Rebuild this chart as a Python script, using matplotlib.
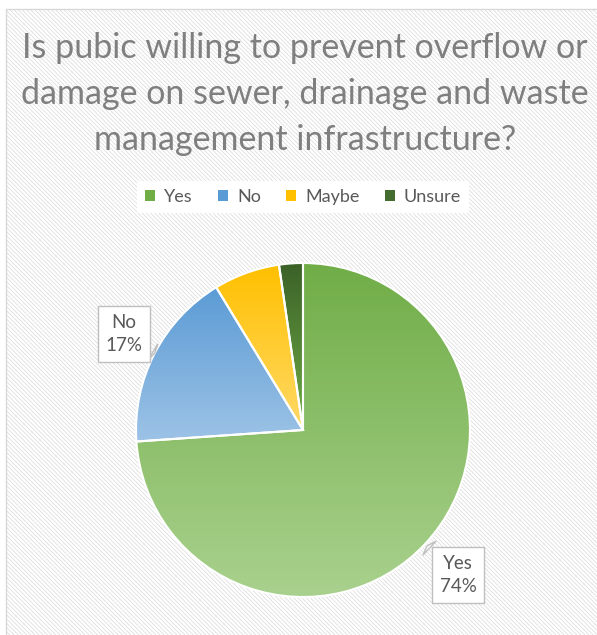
import numpy as np
import matplotlib.pyplot as plt
from matplotlib.patches import Rectangle
from matplotlib.colors import LinearSegmentedColormap

labels = ['Yes', 'No', 'Maybe', 'Unsure']
shares = [73.9, 17.4, 6.4, 2.3]
top_colors = ['#70AD47', '#5B9BD5', '#FFC000', '#3B6128']
bottom_colors = ['#A9D18E', '#9DC3E6', '#FFD966', '#70AD47']
legend_colors = ['#70AD47', '#5B9BD5', '#FFC000', '#446C2E']
labelled = ['Yes', 'No']
label_pos = {'Yes': (0.928, -0.868), 'No': (-1.072, 0.575)}
title = ('Is pubic willing to prevent overflow or\n'
         'damage on sewer, drainage and waste\n'
         'management infrastructure?')

W, H = 597, 635
plt.rcParams['font.family'] = ['Lato', 'DejaVu Sans']
plt.rcParams['hatch.linewidth'] = 0.5
fig = plt.figure(figsize=(W / 100, H / 100), dpi=100)

# striped chart area
bg = Rectangle((6 / W, -0.01), 1, 626 / H + 0.01, transform=fig.transFigure,
               facecolor='white', edgecolor='#d8d8d8', hatch='\\' * 8,
               lw=1, zorder=-1)
fig.add_artist(bg)

fig.text(305 / W, 1 - 94 / H, title, ha='center', va='center',
         fontsize=24.5, color='#7f7f7f', linespacing=1.55)

# pie, center at (303, 430) px, radius 167 px
R = 1.05
r_px = 167
ax = fig.add_axes([(303 - r_px * R) / W, (205 - r_px * R) / H,
                   2 * r_px * R / W, 2 * r_px * R / H])
wedges, _ = ax.pie(shares, startangle=90, counterclock=False,
                   wedgeprops=dict(edgecolor='white', linewidth=1.5,
                                   facecolor='none'))
grad = np.linspace(0, 1, 256).reshape(-1, 1)
for w, c0, c1 in zip(wedges, top_colors, bottom_colors):
    ext = w.get_path().get_extents()
    cmap = LinearSegmentedColormap.from_list('g', [c0, c1])
    im = ax.imshow(grad, extent=(ext.x0, ext.x1, ext.y0, ext.y1),
                   origin='upper', cmap=cmap, aspect='auto', zorder=1)
    im.set_clip_path(w)
    w.set_zorder(3)

for w, lab, val in zip(wedges, labels, shares):
    if lab not in labelled:
        continue
    mid = np.deg2rad((w.theta1 + w.theta2) / 2)
    ax.annotate(f'{lab}\n{round(val)}%', xy=(np.cos(mid), np.sin(mid)),
                xytext=label_pos[lab], ha='center', va='center',
                fontsize=13.5, color='#595959', linespacing=1.45, zorder=5,
                bbox=dict(boxstyle='square,pad=0.4', fc='white', ec='#bfbfbf', lw=1),
                arrowprops=dict(arrowstyle='wedge,tail_width=1.0', fc='white',
                                ec='#bfbfbf', lw=1))

ax.set_xlim(-R, R)
ax.set_ylim(-R, R)
ax.set_aspect('equal')
ax.axis('off')

handles = [Rectangle((0, 0), 1, 1, fc=c) for c in legend_colors]
fig.legend(handles, labels, loc='center', bbox_to_anchor=(303 / W, 1 - 197 / H),
           ncol=4, frameon=True, fancybox=False, edgecolor='none',
           facecolor='white', framealpha=1, fontsize=13, labelcolor='#595959',
           handlelength=0.55, handleheight=0.55, handletextpad=0.5,
           columnspacing=1.4, borderpad=0.45)

fig.savefig('out.png', dpi=100)
